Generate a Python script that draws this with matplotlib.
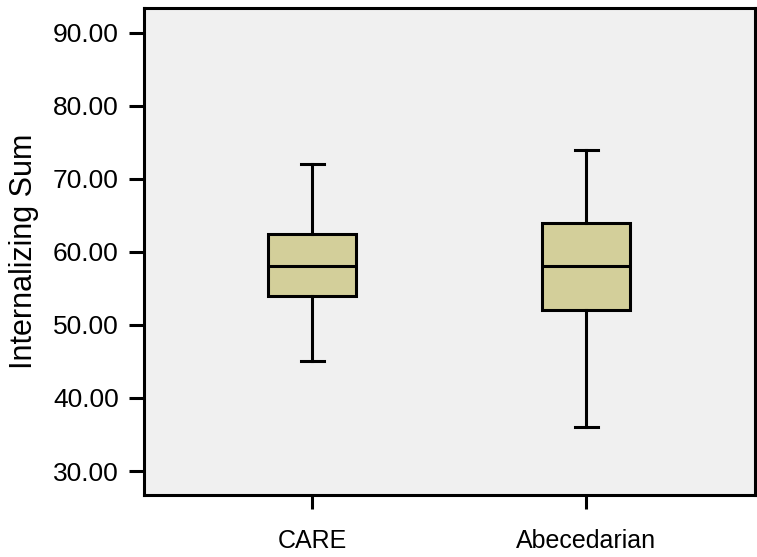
import matplotlib.pyplot as plt

plt.rcParams['font.family'] = ['Liberation Sans', 'DejaVu Sans']

groups = ['CARE', 'Abecedarian']
whisker_low = [45, 36]
q1 = [54, 52]
medians = [58, 58]
q3 = [62.5, 64]
whisker_high = [72, 74]

stats = []
for name, lo, a, m, b, hi in zip(groups, whisker_low, q1, medians, q3, whisker_high):
    stats.append({'label': name, 'whislo': lo, 'q1': a, 'med': m, 'q3': b, 'whishi': hi, 'fliers': []})

fig = plt.figure(figsize=(7.57, 5.57), dpi=100)
ax = fig.add_axes([0.190, 0.111, 0.807, 0.875])
ax.set_facecolor('#f0f0f0')

lw = 2.2
ax.bxp(stats, positions=[1, 2], widths=0.32, patch_artist=True, showfliers=False,
       boxprops=dict(facecolor='#d3cf9a', edgecolor='black', linewidth=lw),
       medianprops=dict(color='black', linewidth=lw),
       whiskerprops=dict(color='black', linewidth=lw),
       capprops=dict(color='black', linewidth=lw), capwidths=0.085)

ax.set_xlim(0.385, 2.615)
ax.set_ylim(26.7, 93.4)
ax.set_yticks([30, 40, 50, 60, 70, 80, 90])
ax.set_yticklabels([f'{v:.2f}' for v in [30, 40, 50, 60, 70, 80, 90]])
ax.set_xticks([1, 2])
ax.set_xticklabels(groups)

for s in ax.spines.values():
    s.set_linewidth(2.2)
ax.tick_params(axis='y', length=11, width=2.2, labelsize=19, pad=7)
ax.tick_params(axis='x', length=10, width=2.2, labelsize=18, pad=14)
ax.set_ylabel('Internalizing Sum', fontsize=22, labelpad=10)

fig.savefig('out.png', dpi=100)
